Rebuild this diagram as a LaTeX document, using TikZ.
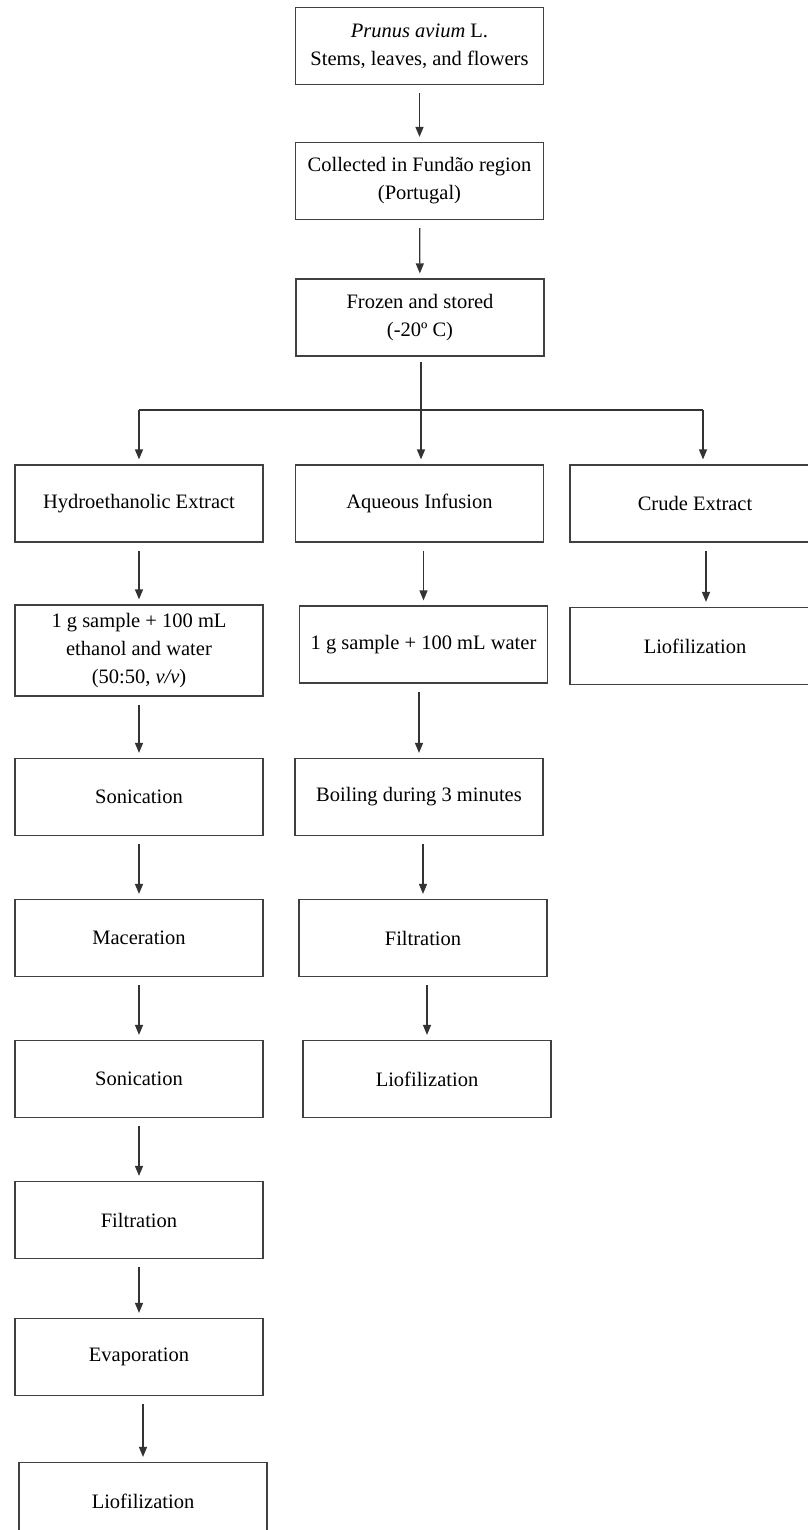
\documentclass[tikz,border=0pt]{standalone}
\usepackage{fontspec}
\setmainfont{Liberation Serif}
\usetikzlibrary{arrows.meta}

\begin{document}
\begin{tikzpicture}[x=1pt,y=-1pt,
  stage/.style = {draw=black!75, line width=1.2pt, minimum width=248pt, minimum height=77pt,
                  align=center, font=\fontsize{20.5}{28}\selectfont, inner sep=2pt},
  wire/.style = {draw=black!80, line width=1.3pt},
  flow/.style = {wire, -{Triangle[length=10pt,width=8pt]}, shorten >=5pt},
  link/.style = {flow, shorten <=8pt}]
      \useasboundingbox (0,0) rectangle (807,1530);

      \node[stage] (1) at (419.5,46) {\textit{Prunus avium} L.\\Stems, leaves, and flowers};
      \node[stage] (2) at (419.5,181) {Collected in Fundão region\\(Portugal)};
      \node[stage] (3) at (420,317.5) {Frozen and stored\\(-20º C)};

      \node[stage] (h1) at (139,503.5) {Hydroethanolic Extract};
      \node[stage, minimum height=91pt] (h2) at (139,650.5) {1 g sample + 100 mL\\ethanol and water\\(50:50, \textit{v/v})};
      \node[stage] (h3) at (139,797) {Sonication};
      \node[stage] (h4) at (139,938) {Maceration};
      \node[stage] (h5) at (139,1079) {Sonication};
      \node[stage] (h6) at (139,1220) {Filtration};
      \node[stage] (h7) at (139,1357) {Evaporation};
      \node[stage] (h8) at (143,1501) {Liofilization};

      \node[stage] (a1) at (419.5,503.5) {Aqueous Infusion};
      \node[stage] (a2) at (423.5,644.5) {1 g sample + 100 mL water};
      \node[stage] (a3) at (419,797) {Boiling during 3 minutes};
      \node[stage] (a4) at (423,938) {Filtration};
      \node[stage] (a5) at (427,1079) {Liofilization};

      \node[stage, minimum width=250pt] (c1) at (695,503.5) {Crude Extract};
      \node[stage, minimum width=250pt] (c2) at (695,646) {Liofilization};

      \coordinate (split) at (421,410);

      \draw[link] (1) -- (2);
      \draw[link] (2) -- (3);
      \draw[wire, shorten <=5pt] (3.south -| split) -- (split);
      \draw[wire] (split -| h1) -- ([xshift=8pt]split -| c1);
      \draw[flow] (split -| h1) -- (h1);
      \draw[flow] (split) -- (split |- a1.north);
      \draw[flow] ([xshift=8pt]split -| c1) -- ([xshift=8pt]c1.north);

      \draw[link] (h1) -- (h2);
      \draw[link] (h2) -- (h3);
      \draw[link] (h3) -- (h4);
      \draw[link] (h4) -- (h5);
      \draw[link] (h5) -- (h6);
      \draw[link] (h6) -- (h7);
      \draw[link] (h7.south -| h8) -- (h8);

      \draw[link] (a1.south -| a2) -- (a2);
      \draw[link] (a2.south -| a3) -- (a3);
      \draw[link] (a3.south -| a4) -- (a4);
      \draw[link] (a4.south -| a5) -- (a5);

      \draw[link] ([xshift=11pt]c1.south) -- ([xshift=11pt]c2.north);
    \end{tikzpicture}
\end{document}
